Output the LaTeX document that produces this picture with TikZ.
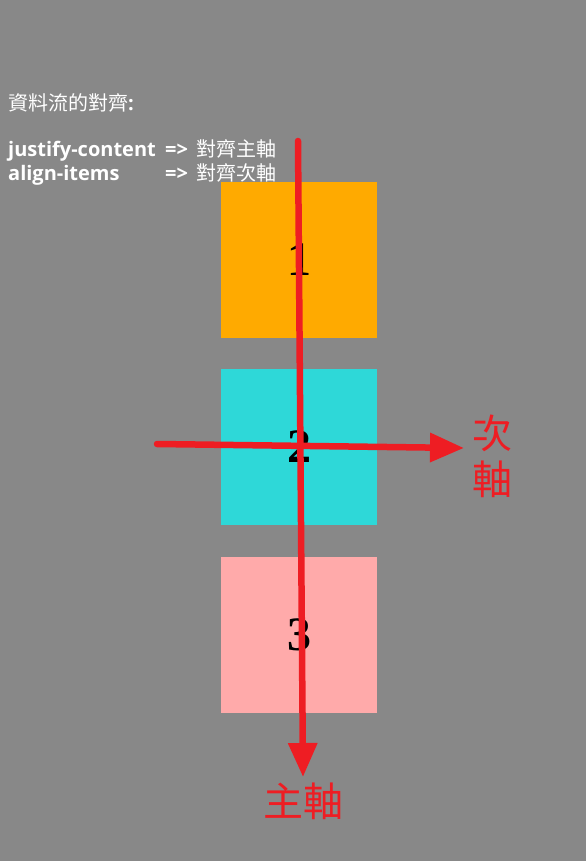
\documentclass[tikz,border=0pt]{standalone}
\usepackage{fontspec}
\newfontfamily\osans{Open Sans}
\newfontfamily\cjk{Noto Sans CJK TC}
\newfontfamily\digitfont{Liberation Serif}
\usetikzlibrary{arrows.meta}
\definecolor{bg}{HTML}{888888}
\definecolor{boxorange}{HTML}{FFAA00}
\definecolor{boxcyan}{HTML}{2ED8D8}
\definecolor{boxpink}{HTML}{FFAAAA}
\definecolor{axisred}{HTML}{EE1D23}
\tikzset{
  flexbox/.style={minimum width=156pt, minimum height=156pt, inner sep=0pt,
    font=\digitfont\bfseries\fontsize{48}{50}\selectfont, text=black},
  axis/.style={draw=axisred, line width=6.5pt, line cap=round,
    -{Triangle[width=28pt,length=34pt]}},
  axlab/.style={text=axisred, inner sep=0pt, font=\cjk\fontsize{40}{46}\selectfont, align=center},
  headtxt/.style={text=white, inner sep=0pt, anchor=base west, font=\osans\bfseries\fontsize{20}{24}\selectfont}
}
\begin{document}
\begin{tikzpicture}[x=1pt,y=-1pt]
\fill[bg] (0,0) rectangle (586,861);
\useasboundingbox (0,0) rectangle (586,861);
% heading
\node[headtxt] (h1) at (8,111) {{\cjk\mdseries 資料流的對齊}:};
\node[headtxt] (jc) at (8,157) {justify-content};
\node[headtxt] (eq1) at (165,157) {=>\hspace{8pt}{\cjk\mdseries 對齊主軸}};
\node[headtxt] (ai) at (8,180) {align-items};
\node[headtxt] (eq2) at (165,180) {=>\hspace{8pt}{\cjk\mdseries 對齊次軸}};
% boxes
\node[flexbox, fill=boxorange] (b1) at (299,259.5) {1};
\node[flexbox, fill=boxcyan] (b2) at (299,447) {2};
\node[flexbox, fill=boxpink] (b3) at (299,635) {3};
% axes
\coordinate (mainstart) at (298,141);
\coordinate (mainend) at (303,777);
\coordinate (crossstart) at (157,444);
\coordinate (crossend) at (464,448);
\draw[axis] (mainstart) -- (mainend);
\draw[axis] (crossstart) -- (crossend);
% labels
\node[axlab] (crosslab) at (492,456) {次\\軸};
\node[axlab] (mainlab) at (303,801) {主軸};
\end{tikzpicture}
\end{document}
